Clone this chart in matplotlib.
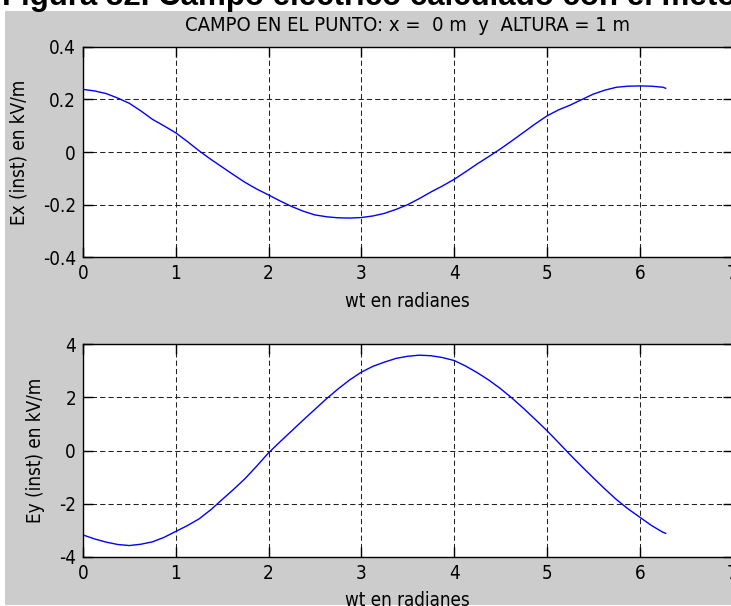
import matplotlib.pyplot as plt
from matplotlib.patches import Rectangle
from matplotlib import font_manager

# wt samples (rad) and the two field components in kV/m
wt = [0.0, 0.125, 0.25, 0.375, 0.5, 0.625, 0.75, 0.875, 1.0, 1.125, 1.25, 1.375,
      1.5, 1.625, 1.75, 1.875, 2.0, 2.125, 2.25, 2.375, 2.5, 2.625, 2.75, 2.875,
      3.0, 3.125, 3.25, 3.375, 3.5, 3.625, 3.75, 3.875, 4.0, 4.125, 4.25, 4.375,
      4.5, 4.625, 4.75, 4.875, 5.0, 5.125, 5.25, 5.375, 5.5, 5.625, 5.75, 5.875,
      6.0, 6.125, 6.25, 6.28]
ex = [0.238, 0.232, 0.222, 0.205, 0.185, 0.156, 0.124, 0.099, 0.073, 0.040,
      0.005, -0.027, -0.057, -0.087, -0.116, -0.141, -0.163, -0.186, -0.207,
      -0.225, -0.239, -0.246, -0.250, -0.251, -0.249, -0.243, -0.233, -0.218,
      -0.200, -0.177, -0.152, -0.129, -0.104, -0.075, -0.045, -0.017, 0.012,
      0.043, 0.075, 0.107, 0.137, 0.160, 0.178, 0.199, 0.220, 0.235, 0.246,
      0.250, 0.251, 0.250, 0.246, 0.242]
ey = [-3.18, -3.33, -3.45, -3.54, -3.58, -3.53, -3.44, -3.27, -3.05, -2.83,
      -2.58, -2.24, -1.85, -1.46, -1.05, -0.58, -0.09, 0.33, 0.74, 1.15, 1.55,
      1.95, 2.32, 2.66, 2.95, 3.17, 3.33, 3.47, 3.55, 3.59, 3.57, 3.50, 3.39,
      3.18, 2.93, 2.65, 2.33, 1.97, 1.58, 1.17, 0.75, 0.30, -0.16, -0.60, -1.03,
      -1.45, -1.85, -2.20, -2.51, -2.82, -3.08, -3.12]

x_ticks = [0, 1, 2, 3, 4, 5, 6, 7]
ex_ticks = [-0.4, -0.2, 0, 0.2, 0.4]
ex_tick_labels = ['-0.4', '-0.2', '0', '0.2', '0.4']
ey_ticks = [-4, -2, 0, 2, 4]
ey_tick_labels = ['-4', '-2', '0', '2', '4']

W, H = 731, 606

# narrow face for the axis texts if one is around
names = {f.name for f in font_manager.fontManager.ttflist}
narrow = [n for n in ['Liberation Sans Narrow', 'DejaVu Sans Condensed'] if n in names]
plt.rcParams['font.family'] = narrow + ['DejaVu Sans']
plt.rcParams['font.stretch'] = 'condensed'
plt.rcParams['font.size'] = 13.5

fig = plt.figure(figsize=(W / 100, H / 100), dpi=100, facecolor='white')

# grey figure window behind both axes
fig.patches.append(Rectangle((5 / W, 1 / H), 1, 1 - 12 / H, transform=fig.transFigure,
                             facecolor='#cccccc', edgecolor='none', zorder=-10))
fig.text(2 / W, 1 - 5 / H, 'Figura 52. Campo eléctrico calculado con el método',
         family='Liberation Sans', stretch='normal', fontweight='bold', fontsize=22.5,
         va='baseline', ha='left')


def setup_axes(ax, ticks, labels, ylim, ylabel):
    ax.set_facecolor('white')
    ax.set_xlim(0, 7)
    ax.set_ylim(*ylim)
    ax.set_xticks(x_ticks)
    ax.set_yticks(ticks)
    ax.set_yticklabels(labels)
    ax.tick_params(direction='in', top=True, right=True, length=7, width=1, pad=5,
                   colors='black')
    ax.grid(True, color='#222222', linestyle=(0, (5, 3)), linewidth=0.75)
    ax.set_axisbelow(True)
    for s in ax.spines.values():
        s.set_linewidth(1)
    ax.set_xlabel('wt en radianes', labelpad=6)
    ax.set_ylabel(ylabel, labelpad=10)


left = 82.9 / W
width = (732.5 - 82.9) / W

ax1 = fig.add_axes([left, 1 - 257.3 / H, width, (257.3 - 46.7) / H])
ax1.plot(wt, ex, color='#0000ff', linewidth=1)
setup_axes(ax1, ex_ticks, ex_tick_labels, (-0.4, 0.4), 'Ex (inst) en kV/m')
ax1.set_title('CAMPO EN EL PUNTO: x =  0 m  y  ALTURA = 1 m', pad=11, fontsize=14.5)

ax2 = fig.add_axes([left, 1 - 556.7 / H, width, (556.7 - 344.3) / H])
ax2.plot(wt, ey, color='#0000ff', linewidth=1)
setup_axes(ax2, ey_ticks, ey_tick_labels, (-4, 4), 'Ey (inst) en kV/m')

fig.savefig('out.png', dpi=100)
